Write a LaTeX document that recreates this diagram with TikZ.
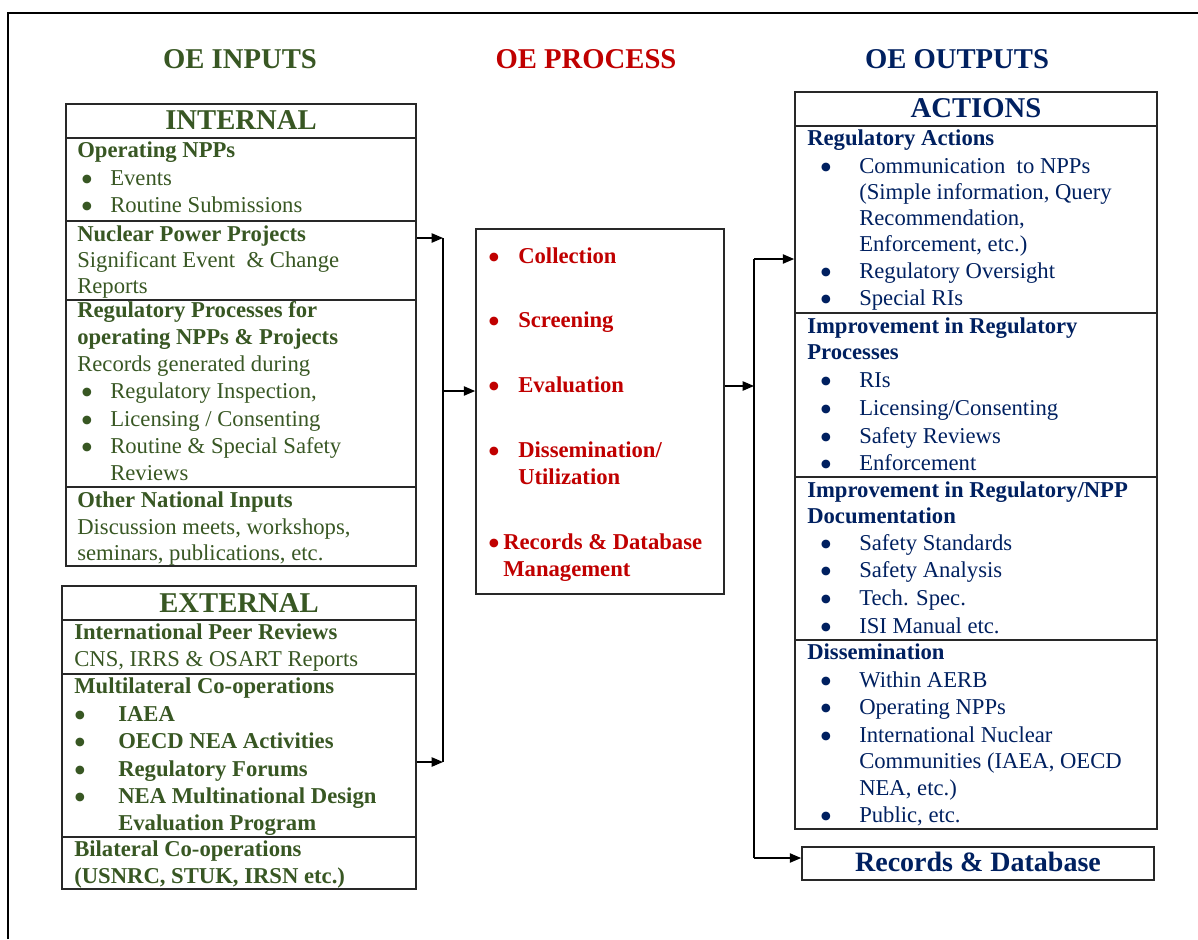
\documentclass[tikz,border=0pt]{standalone}
\usepackage{fontspec}
\setmainfont{Liberation Serif}
\usetikzlibrary{arrows.meta,fit}
\definecolor{oegreen}{RGB}{56,87,35}
\definecolor{oered}{RGB}{192,0,0}
\definecolor{oenavy}{RGB}{0,32,96}
\definecolor{boxgray}{RGB}{40,40,40}
\newcommand\bigbul{\smash{\raisebox{-0.27em}{\scalebox{1.6}{•}}}}
\begin{document}
\begin{tikzpicture}[x=0.75pt,y=-0.75pt,
  tx/.style={anchor=base west,inner sep=0pt,font=\fontsize{17}{20}\selectfont},
  tb/.style={tx,font=\fontsize{17}{20}\selectfont\bfseries},
  bul/.style={tx,anchor=base},
  ttl/.style={anchor=base,inner sep=0pt,font=\fontsize{21.5}{24}\selectfont\bfseries},
  hdr/.style={anchor=base,inner sep=0pt,font=\fontsize{21.5}{24}\selectfont\bfseries},
  box/.style={draw=boxgray,line width=1.3pt,inner sep=0pt},
  sep/.style={draw=boxgray,line width=1.3pt},
  conn/.style={draw=black,line width=1pt},
  arr/.style={conn,-{Triangle[length=8.5pt,width=7pt]}}]
\useasboundingbox (0,0) rectangle (1198,939);
% outer frame (left and top edges visible)
\draw[line width=1.5pt] (7.5,939) -- (7.5,13) -- (1198,13);

% titles
\node[ttl,text=oegreen] (tin) at (240,68) {OE INPUTS};
\node[ttl,text=oered] (tproc) at (586,68) {OE PROCESS};
\node[ttl,text=oenavy] (tout) at (957,68) {OE OUTPUTS};

% ---------- INTERNAL ----------
\node[box,fit={(66,104) (416,566)}] (internal) {};
\draw[sep] (66,138) -- (416,138) (66,221) -- (416,221) (66,300) -- (416,300) (66,487) -- (416,487);
\begin{scope}[every node/.append style={text=oegreen}]
\node[hdr] (inth) at (241,129) {INTERNAL};
\node[tb] (i1) at (77,157) {Operating NPPs};
\node[bul] (i1b1) at (87,185) {\bigbul};
\node[tx] (i1t1) at (110,185) {Events};
\node[bul] (i1b2) at (87,212) {\bigbul};
\node[tx] (i1t2) at (110,212) {Routine Submissions};
\node[tb] (i2) at (77,241) {Nuclear Power Projects};
\node[tx] (i2t1) at (77,267) {Significant Event~ \& Change};
\node[tx] (i2t2) at (77,293) {Reports};
\node[tb] (i3) at (77,317) {Regulatory Processes for};
\node[tb] (i3a) at (77,344) {operating NPPs \& Projects};
\node[tx] (i3t0) at (77,371) {Records generated during};
\node[bul] (i3b1) at (87,398) {\bigbul};
\node[tx] (i3t1) at (110,398) {Regulatory Inspection,};
\node[bul] (i3b2) at (87,426) {\bigbul};
\node[tx] (i3t2) at (110,426) {Licensing / Consenting};
\node[bul] (i3b3) at (87,453) {\bigbul};
\node[tx] (i3t3) at (110,453) {Routine \& Special Safety};
\node[tx] (i3t4) at (110,480) {Reviews};
\node[tb] (i4) at (77,507) {Other National Inputs};
\node[tx] (i4t1) at (77,534) {Discussion meets, workshops,};
\node[tx] (i4t2) at (77,560) {seminars, publications, etc.};
\end{scope}

% ---------- EXTERNAL ----------
\node[box,fit={(62,586) (416,889)}] (external) {};
\draw[sep] (62,620) -- (416,620) (62,674) -- (416,674) (62,837) -- (416,837);
\begin{scope}[every node/.append style={text=oegreen}]
\node[hdr] (exth) at (239,612) {EXTERNAL};
\node[tb] (e1) at (74,639) {International Peer Reviews};
\node[tx] (e1t1) at (74,666) {CNS, IRRS \& OSART Reports};
\node[tb] (e2) at (74,693) {Multilateral Co-operations};
\node[bul] (e2b1) at (80,721) {\bigbul};
\node[tb] (e2t1) at (118,721) {IAEA};
\node[bul] (e2b2) at (80,748) {\bigbul};
\node[tb] (e2t2) at (118,748) {OECD NEA Activities};
\node[bul] (e2b3) at (80,776) {\bigbul};
\node[tb] (e2t3) at (118,776) {Regulatory Forums};
\node[bul] (e2b4) at (80,803) {\bigbul};
\node[tb] (e2t4) at (118,803) {NEA Multinational Design};
\node[tb] (e2t5) at (118,830) {Evaluation Program};
\node[tb] (e3) at (74,856) {Bilateral Co-operations};
\node[tb] (e3t1) at (74,883) {(USNRC, STUK, IRSN etc.)};
\end{scope}

% ---------- PROCESS ----------
\node[box,fit={(476,229) (724,594)}] (process) {};
\begin{scope}[every node/.append style={text=oered}]
\node[bul] (pb1) at (494,263) {\bigbul};
\node[tb] (pt1) at (518,263) {Collection};
\node[bul] (pb2) at (494,327) {\bigbul};
\node[tb] (pt2) at (518,327) {Screening};
\node[bul] (pb3) at (494,392) {\bigbul};
\node[tb] (pt3) at (518,392) {Evaluation};
\node[bul] (pb4) at (494,457) {\bigbul};
\node[tb] (pt4) at (518,457) {Dissemination/};
\node[tb] (pt4a) at (518,484) {Utilization};
\node[bul] (pb5) at (494,549) {\bigbul};
\node[tb] (pt5) at (503,549) {Records \& Database};
\node[tb] (pt5a) at (503,576) {Management};
\end{scope}

% ---------- ACTIONS ----------
\node[box,fit={(795,92) (1157,829)}] (actions) {};
\draw[sep] (795,126) -- (1157,126) (795,313) -- (1157,313) (795,477) -- (1157,477) (795,640) -- (1157,640);
\begin{scope}[every node/.append style={text=oenavy}]
\node[hdr] (acth) at (976,117) {ACTIONS};
\node[tb] (a1) at (807,145) {Regulatory Actions};
\node[bul] (a1b1) at (826,173) {\bigbul};
\node[tx] (a1t1) at (859,173) {Communication~ to NPPs};
\node[tx] (a1t1b) at (859,199) {(Simple information, Query};
\node[tx] (a1t1c) at (859,225) {Recommendation,};
\node[tx] (a1t1d) at (859,251) {Enforcement, etc.)};
\node[bul] (a1b2) at (826,278) {\bigbul};
\node[tx] (a1t2) at (859,278) {Regulatory Oversight};
\node[bul] (a1b3) at (826,305) {\bigbul};
\node[tx] (a1t3) at (859,305) {Special RIs};
\node[tb] (a2) at (807,333) {Improvement in Regulatory};
\node[tb] (a2a) at (807,359) {Processes};
\node[bul] (a2b1) at (826,387) {\bigbul};
\node[tx] (a2t1) at (859,387) {RIs};
\node[bul] (a2b2) at (826,415) {\bigbul};
\node[tx] (a2t2) at (859,415) {Licensing/Consenting};
\node[bul] (a2b3) at (826,443) {\bigbul};
\node[tx] (a2t3) at (859,443) {Safety Reviews};
\node[bul] (a2b4) at (826,470) {\bigbul};
\node[tx] (a2t4) at (859,470) {Enforcement};
\node[tb] (a3) at (807,497) {Improvement in Regulatory/NPP};
\node[tb] (a3a) at (807,523) {Documentation};
\node[bul] (a3b1) at (826,550) {\bigbul};
\node[tx] (a3t1) at (859,550) {Safety Standards};
\node[bul] (a3b2) at (826,577) {\bigbul};
\node[tx] (a3t2) at (859,577) {Safety Analysis};
\node[bul] (a3b3) at (826,605) {\bigbul};
\node[tx] (a3t3) at (859,605) {Tech. Spec.};
\node[bul] (a3b4) at (826,633) {\bigbul};
\node[tx] (a3t4) at (859,633) {ISI Manual etc.};
\node[tb] (a4) at (807,659) {Dissemination};
\node[bul] (a4b1) at (826,687) {\bigbul};
\node[tx] (a4t1) at (859,687) {Within AERB};
\node[bul] (a4b2) at (826,714) {\bigbul};
\node[tx] (a4t2) at (859,714) {Operating NPPs};
\node[bul] (a4b3) at (826,742) {\bigbul};
\node[tx] (a4t3) at (859,742) {International Nuclear};
\node[tx] (a4t3b) at (859,768) {Communities (IAEA, OECD};
\node[tx] (a4t3c) at (859,795) {NEA, etc.)};
\node[bul] (a4b4) at (826,822) {\bigbul};
\node[tx] (a4t4) at (859,822) {Public, etc.};
\end{scope}

% ---------- RECORDS ----------
\node[box,fit={(802,847) (1154,880)}] (records) {};
\node[hdr,text=oenavy,font=\fontsize{21}{24}\selectfont\bfseries] (rech) at (978,871) {Records \& Database};

% ---------- connectors ----------
\coordinate (lbt) at (443,238);
\coordinate (lbm) at (443,391);
\coordinate (lbb) at (443,762);
\coordinate (rbt) at (754,259);
\coordinate (rbm) at (754,386);
\coordinate (rbb) at (754,858);
\draw[arr] (internal.east |- lbt) -- (lbt);
\draw[arr] (external.east |- lbb) -- (lbb);
\draw[conn] (lbt) -- (lbb);
\draw[arr] (lbm) -- (process.west |- lbm);
\draw[arr] (process.east |- rbm) -- (rbm);
\draw[conn] (rbt) -- (rbb);
\draw[arr] (rbt) -- (actions.west |- rbt);
\draw[arr] (rbb) -- (records.west |- rbb);
\end{tikzpicture}
\end{document}
